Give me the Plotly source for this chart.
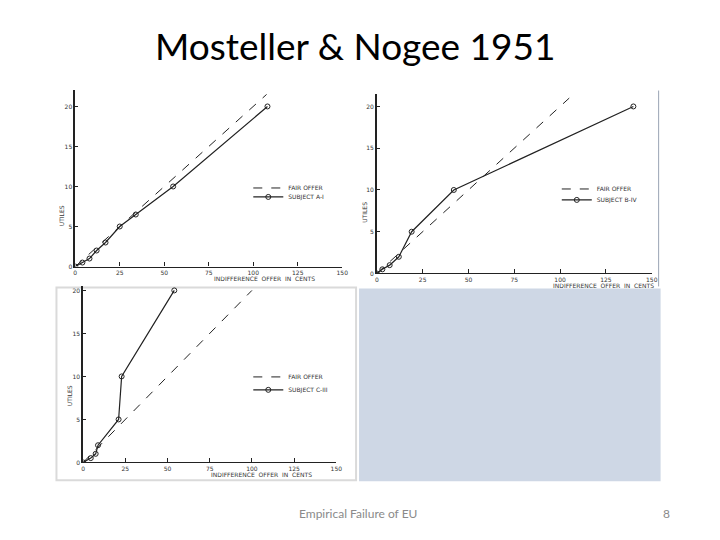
import plotly.graph_objects as go

# values (utiles vs. indifference offer in cents)
x_ticks = [0, 25, 50, 75, 100, 125, 150]
y_ticks = [0, 5, 10, 15, 20]

fair_a_x = [0, 107.5]
fair_a_y = [0, 21.5]
subj_a_x = [0, 4, 8, 12, 17, 25, 34, 55, 108]
subj_a_y = [0, 0.5, 1, 2, 3, 5, 6.5, 10, 20]

fair_b_x = [0, 105]
fair_b_y = [0, 21]
subj_b_x = [0, 3, 7, 12, 19, 42, 140]
subj_b_y = [0, 0.5, 1, 2, 5, 10, 20]

fair_c_x = [0, 100]
fair_c_y = [0, 20]
subj_c_x = [0, 4.5, 7.4, 8.8, 21, 22.8, 54]
subj_c_y = [0, 0.5, 1, 2, 5, 10, 20]

# the page body keeps its default 8px margin, so the figure is drawn 8px in
OFF = 8
W, H = 720 - OFF, 540 - OFF
ink = "#222222"
small = dict(family="DejaVu Sans", size=6, color="#333333")

fig = go.Figure()

def px(v):
    return (v - OFF) / W

def py(v):
    return 1 - (v - OFF) / H

panels = [
    # suffix, fair, subject, label, x-domain px, y-domain px, y max, legend x, legend rows
    ("", (fair_a_x, fair_a_y), (subj_a_x, subj_a_y), "SUBJECT A-I",
     (74, 344), (268, 90.9), 22, 249, (189, 198)),
    ("2", (fair_b_x, fair_b_y), (subj_b_x, subj_b_y), "SUBJECT B-IV",
     (379, 657), (275, 94.4), 21.5, 561, (190, 201)),
    ("3", (fair_c_x, fair_c_y), (subj_c_x, subj_c_y), "SUBJECT C-III",
     (82, 338), (465, 287.7), 20.5, 249, (379, 392)),
]

n = 0
for sfx, fair, subj, label, xd, yd, ymax, lx, rows in panels:
    xa = "x" + sfx
    ya = "y" + sfx
    n += 1
    leg_f = "legend" + ("" if n == 1 else str(2 * n - 1))
    leg_s = "legend" + str(2 * n)
    fig.add_trace(go.Scatter(
        x=fair[0], y=fair[1], mode="lines", name="FAIR OFFER",
        line=dict(color=ink, width=1, dash="dash"),
        xaxis=xa, yaxis=ya, legend=leg_f))
    fig.add_trace(go.Scatter(
        x=subj[0], y=subj[1], mode="lines+markers", name=label,
        line=dict(color=ink, width=1.2),
        marker=dict(symbol="circle-open", size=5, color=ink, line=dict(width=1)),
        xaxis=xa, yaxis=ya, legend=leg_s))

    leg_style = dict(xanchor="left", yanchor="middle", bgcolor="rgba(0,0,0,0)",
                     font=small, itemwidth=30)
    fig.update_layout(**{
        "xaxis" + sfx: dict(
            domain=[px(xd[0]), px(xd[1])], range=[0, 150], anchor=ya,
            tickvals=x_ticks, ticks="inside", ticklen=4, tickcolor=ink,
            showline=True, linecolor=ink, linewidth=1.3,
            showgrid=False, zeroline=False, tickfont=small),
        "yaxis" + sfx: dict(
            domain=[py(yd[0]), py(yd[1])], range=[0, ymax], anchor=xa,
            tickvals=y_ticks, ticks="inside", ticklen=3, tickcolor=ink,
            showline=True, linecolor=ink, linewidth=1.6,
            showgrid=False, zeroline=False, tickfont=small),
        leg_f: dict(x=px(lx), y=py(rows[0]), **leg_style),
        leg_s: dict(x=px(lx), y=py(rows[1]), **leg_style),
    })

# slide furniture: frame around the lower scan, empty blue-grey placeholder, scan edge
fig.add_shape(type="rect", xref="paper", yref="paper",
              x0=px(55), x1=px(358), y0=py(483), y1=py(289),
              line=dict(color="#DADADA", width=2), layer="below")
fig.add_shape(type="rect", xref="paper", yref="paper",
              x0=px(361), x1=px(666), y0=py(484), y1=py(290),
              line=dict(width=0), fillcolor="#CED7E5", layer="below")
fig.add_shape(type="line", xref="paper", yref="paper",
              x0=px(664), x1=px(664), y0=py(288), y1=py(91),
              line=dict(color="#9AA4B4", width=1))

notes = [
    ("UTILES", 60, 217, -90),
    ("UTILES", 367, 213, -90),
    ("UTILES", 68, 398, -90),
    ("INDIFFERENCE  OFFER  IN  CENTS", 265, 280, 0),
    ("INDIFFERENCE  OFFER  IN  CENTS", 608, 287, 0),
    ("INDIFFERENCE  OFFER  IN  CENTS", 262, 477, 0),
]
for txt, ax, ay, ang in notes:
    fig.add_annotation(text=txt, x=px(ax), y=py(ay), xref="paper", yref="paper",
                       showarrow=False, textangle=ang, font=small,
                       xanchor="center", yanchor="middle")

slide_text = [
    ("Mosteller & Nogee 1951", 357, 46, 37, "#000000"),
    ("Empirical Failure of EU", 360, 516, 12, "#8A8A8A"),
    ("8", 672, 516, 12, "#8A8A8A"),
]
for txt, ax, ay, size, col in slide_text:
    fig.add_annotation(text=txt, x=px(ax), y=py(ay), xref="paper", yref="paper",
                       showarrow=False, xanchor="center", yanchor="middle",
                       font=dict(family="Lato", size=size, color=col))

fig.update_layout(
    width=W, height=H,
    margin=dict(l=0, r=0, t=0, b=0),
    paper_bgcolor="white", plot_bgcolor="white",
    showlegend=True,
)

fig.write_html("out.html")
